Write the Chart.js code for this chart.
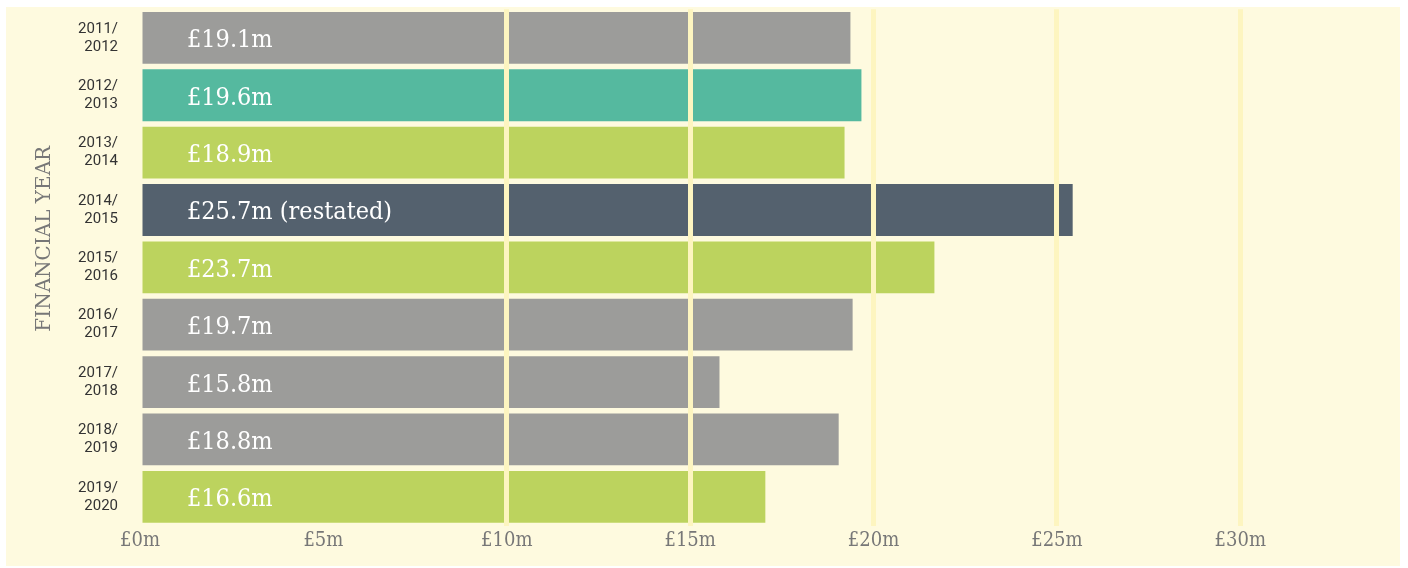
<!DOCTYPE html>
<html>
<head>
<meta charset="utf-8">
<script src="https://cdn.jsdelivr.net/npm/chart.js@4/dist/chart.umd.min.js"></script>
<style>
  html, body { margin: 0; padding: 0; background: #ffffff; }
  #panel {
    position: absolute; left: 6px; top: 7px;
    width: 1394px; height: 559px;
    background: #fefadf;
  }
</style>
</head>
<body>
<div id="panel"><canvas id="chart" width="1394" height="559"></canvas></div>
<script>
"use strict"

// financial years (two-line labels)
const years = [
    ["2011/", "2012"], ["2012/", "2013"], ["2013/", "2014"],
    ["2014/", "2015"], ["2015/", "2016"], ["2016/", "2017"],
    ["2017/", "2018"], ["2018/", "2019"], ["2019/", "2020"]
];
// bar lengths as drawn (£m)
const barValues = [19.37, 19.67, 19.21, 25.43, 21.66, 19.43, 15.8, 19.05, 17.05];
// text printed inside each bar
const valueLabels = ["£19.1m", "£19.6m", "£18.9m", "£25.7m (restated)", "£23.7m",
    "£19.7m", "£15.8m", "£18.8m", "£16.6m"];
const barColours = ["#9c9c9a", "#55b99f", "#bcd35e", "#54616e", "#bcd35e",
    "#9c9c9a", "#9c9c9a", "#9c9c9a", "#bcd35e"];
const xTicks = [0, 5, 10, 15, 20, 25, 30];

const slab = "'DejaVu Serif Condensed', 'DejaVu Serif', serif";

// white labels written inside the bars
const barText = {
    id: "barText",
    afterDraw(chart) {
        const ctx = chart.ctx;
        const x0 = chart.scales.x.getPixelForValue(0);
        ctx.save();
        ctx.font = "25px " + slab;
        ctx.fillStyle = "#ffffff";
        ctx.textBaseline = "middle";
        ctx.textAlign = "left";
        chart.getDatasetMeta(0).data.forEach((bar, i) => {
            ctx.fillText(valueLabels[i], x0 + 47, bar.y + 3);
        });
        ctx.restore();
    }
};

new Chart(document.getElementById("chart"), {
    type: "bar",
    data: {
        labels: years,
        datasets: [{
            data: barValues,
            backgroundColor: barColours,
            borderWidth: 0,
            barPercentage: 0.903,
            categoryPercentage: 1
        }]
    },
    options: {
        indexAxis: "y",
        responsive: false,
        animation: false,
        layout: { padding: { top: 2.2, right: 13, left: 0, bottom: 9.5 } },
        plugins: {
            legend: { display: false },
            tooltip: { enabled: false }
        },
        scales: {
            x: {
                min: 0,
                max: 34,
                afterBuildTicks(scale) {
                    scale.ticks = xTicks.map(v => ({ value: v }));
                },
                border: { display: false },
                grid: {
                    z: 1,
                    drawTicks: false,
                    lineWidth: 5,
                    color: c => (c.tick && c.tick.value >= 10) ? "#fdf5c0" : "transparent"
                },
                ticks: {
                    padding: 3.5,
                    color: "#777777",
                    font: { family: slab, size: 20 },
                    callback: v => "£" + v + "m"
                }
            },
            y: {
                afterFit(scale) {
                    scale.width = 134;
                    scale.paddingTop = 0;
                    scale.paddingBottom = 0;
                },
                border: { display: false },
                grid: { display: false, drawTicks: false },
                ticks: {
                    padding: 22,
                    color: "#333333",
                    font: { family: "Roboto", size: 15, lineHeight: 1.2 }
                },
                title: {
                    display: true,
                    // leading spaces nudge the title towards the top, as in the original
                    text: "         FINANCIAL YEAR",
                    color: "#777777",
                    padding: { top: 27, bottom: 0 },
                    font: { family: "'DejaVu Serif', serif", size: 20, weight: "normal" }
                }
            }
        }
    },
    plugins: [barText]
});
</script>
</body>
</html>
